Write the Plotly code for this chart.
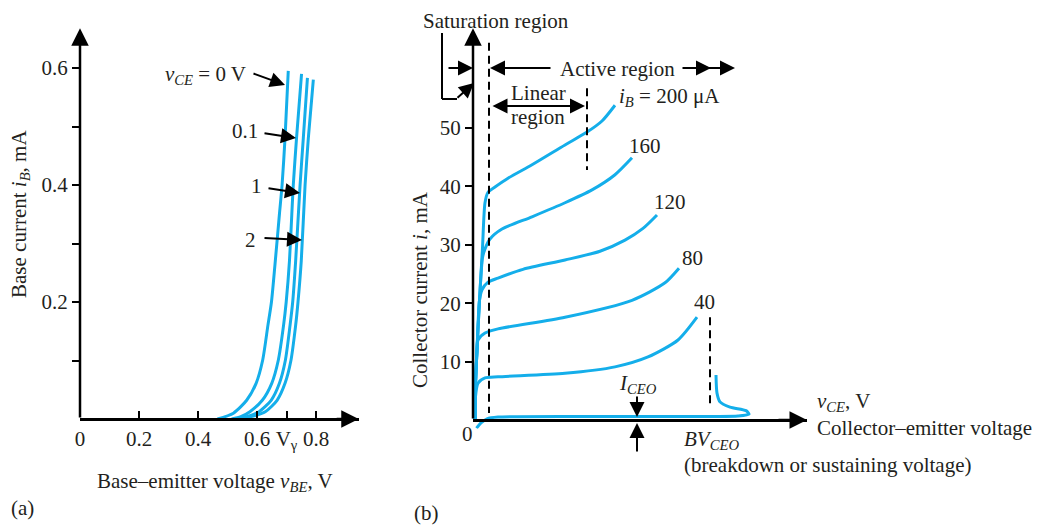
import plotly.graph_objects as go

OFF = 8                      # page body margin of the written html
W, H = 1047 - OFF, 525 - OFF
BLUE = "#14AEEA"
INK = "#231F20"
FONT = "Liberation Serif"
FS = 21

# ---------------- Panel (a): input characteristics ----------------
vbe_ticks = [0, 0.2, 0.4, 0.6, 0.7, 0.8]
vbe_ticktext = ["0", "0.2", "0.4", "0.6", "V<sub>γ</sub>", "0.8"]
ib_ticks = [0.1, 0.2, 0.3, 0.4, 0.5, 0.6]
ib_ticktext = ["", "0.2", "", "0.4", "", "0.6"]

vbe_0V = [0.466, 0.52, 0.565, 0.597, 0.619, 0.637, 0.649, 0.662, 0.676, 0.685, 0.695, 0.706]
ib_0V = [0.0, 0.01, 0.032, 0.061, 0.10, 0.16, 0.20, 0.27, 0.35, 0.40, 0.48, 0.595]
vbe_01V = [0.514, 0.545, 0.576, 0.618, 0.650, 0.672, 0.690, 0.699, 0.710, 0.718, 0.723, 0.734, 0.751]
ib_01V = [0.0, 0.004, 0.0125, 0.032, 0.061, 0.10, 0.16, 0.20, 0.27, 0.35, 0.40, 0.48, 0.590]
vbe_1V = [0.531, 0.565, 0.607, 0.648, 0.676, 0.696, 0.712, 0.721, 0.731, 0.746, 0.757, 0.771]
ib_1V = [0.0, 0.004, 0.0125, 0.032, 0.061, 0.10, 0.16, 0.20, 0.27, 0.40, 0.48, 0.583]
vbe_2V = [0.542, 0.580, 0.628, 0.668, 0.695, 0.715, 0.731, 0.739, 0.750, 0.763, 0.774, 0.791]
ib_2V = [0.0, 0.004, 0.0125, 0.032, 0.061, 0.10, 0.16, 0.20, 0.27, 0.40, 0.48, 0.580]
vce_labels_a = ["<i>v</i><sub><i>CE</i></sub> = 0 V", "0.1", "1", "2"]

# ---------------- Panel (b): output characteristics ----------------
ic_ticks = [10, 20, 30, 40, 50]
ic_ticktext = ["10", "20", "30", "40", "50"]

vce_200 = [0.2, 0.25, 0.4, 0.65, 0.95, 1.2, 1.5, 2.2, 3.5, 5.9, 9.2, 11.4, 12.9, 14.2]
ic_200 = [0.0, 6.0, 12.0, 20.5, 29.5, 37.2, 39.0, 39.9, 41.4, 43.7, 47.1, 49.3, 51.2, 53.9]
vce_160 = [0.2, 0.25, 0.4, 0.65, 0.95, 1.2, 1.7, 2.9, 5.9, 9.2, 11.9, 14.2, 15.9]
ic_160 = [0.0, 6.0, 12.0, 20.5, 27.8, 29.3, 31.0, 32.7, 34.8, 37.2, 39.4, 42.0, 44.9]
vce_120 = [0.2, 0.25, 0.4, 0.65, 0.9, 1.5, 2.5, 5.0, 9.2, 12.7, 15.2, 17.0, 18.4]
ic_120 = [0.0, 6.0, 12.0, 20.5, 22.3, 23.6, 24.3, 25.8, 27.4, 28.9, 30.8, 32.8, 35.1]
vce_80 = [0.2, 0.25, 0.4, 0.5, 1.2, 2.5, 9.2, 15.9, 19.2, 20.6]
ic_80 = [0.0, 6.0, 12.0, 13.7, 14.9, 15.6, 17.6, 20.5, 23.5, 26.0]
vce_40 = [0.2, 0.25, 0.5, 1.2, 2.5, 9.2, 14.2, 17.5, 20.5, 22.4]
ic_40 = [0.0, 4.0, 6.3, 7.2, 7.4, 8.0, 9.1, 10.8, 13.7, 17.6]
vce_ceo = [0.35, 0.8, 1.4, 2.5, 15.0, 26.5, 27.6, 27.3, 25.7, 24.7, 24.4, 24.3]
ic_ceo = [-1.4, -0.5, 0.2, 0.5, 0.6, 0.7, 1.0, 1.6, 2.2, 3.1, 4.6, 7.7]
ib_labels_b = ["<i>i</i><sub><i>B</i></sub> = 200 μA", "160", "120", "80", "40"]

# boundaries (x in the same arbitrary v_CE units)
vce_sat = 1.6
vce_lin = 11.4
vce_bv = 23.7

# ---------------- geometry (pixel layout of the two panels, window coords) ----------------
A_X0, A_SX = 80, 295.0        # panel a: px of v=0, px per volt
A_Y0, A_SY = 419, 585.0       # panel a: py of i=0, px per mA
B_X0, B_SX = 473, 10.0        # panel b
B_Y0, B_SY = 420, 5.84

a_xr = [0, 0.945]
a_yr = [-0.012, 0.668]
b_xr = [0, 33.4]
b_yr = [-1.5, 67.1]


def fx(px):
    return (px - OFF) / W


def fy(py):
    return 1 - (py - OFF) / H


fig = go.Figure()

line_style = dict(color=BLUE, width=3, shape="spline", smoothing=0.7)
for xs, ys in [(vbe_0V, ib_0V), (vbe_01V, ib_01V), (vbe_1V, ib_1V), (vbe_2V, ib_2V)]:
    fig.add_trace(go.Scatter(x=xs, y=ys, mode="lines", line=line_style,
                             xaxis="x", yaxis="y", hoverinfo="skip", showlegend=False))

for xs, ys in [(vce_200, ic_200), (vce_160, ic_160), (vce_120, ic_120),
               (vce_80, ic_80), (vce_40, ic_40), (vce_ceo, ic_ceo)]:
    fig.add_trace(go.Scatter(x=xs, y=ys, mode="lines", line=line_style,
                             xaxis="x2", yaxis="y2", hoverinfo="skip", showlegend=False))

tickfont = dict(family=FONT, size=FS, color=INK)
common = dict(showgrid=False, zeroline=False, tickcolor="black", tickwidth=2,
              ticklen=7, tickfont=tickfont, fixedrange=True, automargin=False)

fig.update_layout(
    width=W, height=H, autosize=False,
    margin=dict(l=0, r=0, t=0, b=0),
    paper_bgcolor="white", plot_bgcolor="white",
    xaxis=dict(domain=[fx(A_X0), fx(A_X0 + a_xr[1] * A_SX)], range=a_xr,
               anchor="free", position=fy(A_Y0), showline=True, linecolor="black",
               linewidth=2.5, ticks="inside", tickvals=vbe_ticks, ticktext=vbe_ticktext,
               **common),
    yaxis=dict(domain=[fy(A_Y0 - a_yr[0] * A_SY), fy(A_Y0 - a_yr[1] * A_SY)], range=a_yr,
               anchor="x", showline=False, ticks="outside", tickvals=ib_ticks,
               ticktext=ib_ticktext, **common),
    xaxis2=dict(domain=[fx(B_X0), fx(B_X0 + b_xr[1] * B_SX)], range=b_xr,
                anchor="free", position=fy(B_Y0), showline=True, linecolor="black",
                linewidth=2.5, ticks="", showticklabels=False, **common),
    yaxis2=dict(domain=[fy(B_Y0 - b_yr[0] * B_SY), fy(B_Y0 - b_yr[1] * B_SY)], range=b_yr,
                anchor="x2", showline=False, ticks="outside", tickvals=ic_ticks,
                ticktext=ic_ticktext, **common),
)

ann = []
shapes = []


def text(px, py, t, xanchor="center", size=FS, angle=0):
    ann.append(dict(x=fx(px), y=fy(py), xref="paper", yref="paper", text=t,
                    showarrow=False, xanchor=xanchor, yanchor="middle", textangle=angle,
                    font=dict(family=FONT, size=size, color=INK)))


def arrow(tx, ty, hx, hy, both=False, width=2, size=1.5):
    ann.append(dict(x=fx(hx), y=fy(hy), xref="paper", yref="paper", text="",
                    showarrow=True, axref="pixel", ayref="pixel", ax=tx - hx, ay=ty - hy,
                    arrowhead=2, arrowsize=size, arrowwidth=width, arrowcolor="black",
                    standoff=0, startstandoff=0, arrowside="end+start" if both else "end",
                    startarrowhead=2, startarrowsize=size))


def seg(x0, y0, x1, y1, dash="solid", width=2, ref=("paper", "paper")):
    shapes.append(dict(type="line", x0=x0, y0=y0, x1=x1, y1=y1, xref=ref[0], yref=ref[1],
                       line=dict(color="black", width=width, dash=dash)))


def axis_arrow(x, y, ax, ay, xr, yr):
    ann.append(dict(x=x, y=y, ax=ax, ay=ay, xref=xr, yref=yr, axref=xr, ayref=yr,
                    text="", showarrow=True, arrowhead=2, arrowsize=1.4, arrowwidth=2.5,
                    arrowcolor="black", standoff=0))


# axis lines / arrowheads
axis_arrow(0, a_yr[1], 0, 0, "x", "y")
axis_arrow(a_xr[1], 0, a_xr[1] - 0.08, 0, "x", "y")
axis_arrow(0, b_yr[1], 0, 0, "x2", "y2")
axis_arrow(b_xr[1], 0, b_xr[1] - 3, 0, "x2", "y2")

# ---- panel (a) labels ----
text(20, 214, "Base current <i>i</i><sub><i>B</i></sub>, mA", angle=-90)
text(215, 482, "Base–emitter voltage <i>v</i><sub><i>BE</i></sub>, V")
text(9, 508, "(a)", xanchor="left")
text(248, 75, vce_labels_a[0], xanchor="right")
arrow(252, 73, 285, 85)
text(245, 131, vce_labels_a[1])
arrow(263, 133, 296, 138)
text(256, 186, vce_labels_a[2])
arrow(267, 188, 300, 193)
text(250, 240, vce_labels_a[3])
arrow(263, 238, 302, 240)

# ---- panel (b) labels ----
text(420, 290, "Collector current <i>i</i>, mA", angle=-90)
text(412, 513, "(b)", xanchor="left")
text(467, 434, "0")
text(496, 21, "Saturation region")
seg(fx(442), fy(33), fx(442), fy(99))
seg(fx(442), fy(99), fx(457), fy(99))
arrow(456, 99, 474, 83)
arrow(447, 68, 473, 68)
arrow(552, 68, 490, 68)
text(617, 69, "Active region")
arrow(681, 68, 711, 68)
arrow(706, 68, 735, 68)
text(538, 93, "Linear")
text(538, 117, "region")
arrow(491, 106, 585, 106, both=True)
text(617, 97, ib_labels_b[0], xanchor="left")
text(645, 146, ib_labels_b[1])
text(670, 202, ib_labels_b[2])
text(692, 258, ib_labels_b[3])
text(704, 302, ib_labels_b[4])
text(638, 384, "<i>I</i><sub><i>CEO</i></sub>")
arrow(637, 395, 637, 417)
arrow(637, 453, 637, 423)
text(682, 440, "<i>BV</i><sub><i>CEO</i></sub>", xanchor="left")
text(682, 465, "(breakdown or sustaining voltage)", xanchor="left")
text(815, 402, "<i>v</i><sub><i>CE</i></sub>, V", xanchor="left")
text(815, 428, "Collector–emitter voltage", xanchor="left")

dash = "8px,5px"
seg(vce_sat, 64.6, vce_sat, 1.2, dash=dash, ref=("x2", "y2"))
seg(vce_lin, 56.8, vce_lin, 42.8, dash=dash, ref=("x2", "y2"))
seg(vce_bv, 17.6, vce_bv, 2.2, dash=dash, ref=("x2", "y2"))

fig.update_layout(annotations=ann, shapes=shapes)
fig.write_html("out.html")
